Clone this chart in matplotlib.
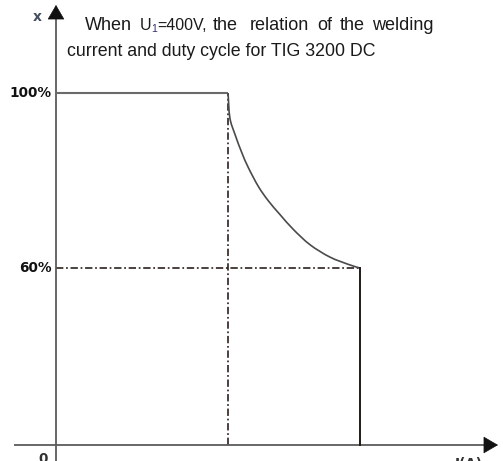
import numpy as np
import matplotlib
matplotlib.use("Agg")
import matplotlib.pyplot as plt
from matplotlib.patches import ArrowStyle, PathPatch
from matplotlib.path import Path

# ---- data (schematic current units: 100 = current at 60 % duty) ----
duty_ticks = [100, 60]
duty_tick_labels = ["100%", "60%"]
current_at_100 = 56.6
current_at_60 = 100.0
curve_current = [56.6, 57.2, 58.9, 61.1, 63.3, 66.6, 69.8, 73.7, 78.1,
                 83.6, 90.1, 96.7, 100.0]
curve_duty = [100.0, 94.3, 90.5, 86.4, 82.9, 78.6, 75.4, 72.2, 68.8,
              65.3, 62.5, 60.7, 60.0]

title_line1 = ["When", "the", "relation", "of", "the", "welding"]
title_voltage = ("U", "1", "=400V,")
title_line2 = "current and duty cycle for TIG 3200 DC"

# ---- layout ----
W, H = 503, 461
fig = plt.figure(figsize=(W / 100, H / 100), dpi=100)
ax = fig.add_axes([0, 0, 1, 1])


# the duty axis is drawn schematically: 0-60 % and 60-100 % get their own spans
def fwd(d):
    d = np.asarray(d, dtype=float)
    return np.where(d <= 60, d * 177 / 60, 177 + (d - 60) * 175 / 40)


def inv(h):
    h = np.asarray(h, dtype=float)
    return np.where(h <= 177, h * 60 / 177, 60 + (h - 177) * 40 / 175)


ax.set_xlim(-18.42, 147.04)
ax.set_yscale("function", functions=(fwd, inv))
ax.set_ylim(-5.424, 121.26)
ax.axis("off")


def pxa(x, y):
    return (x / W, 1 - y / H)


def smooth_path(xs, ys):
    """Catmull-Rom curve through the given points, as cubic Bezier segments."""
    p = np.column_stack([xs, ys])
    ext = np.vstack([p[0], p, p[-1]])
    verts = [p[0]]
    codes = [Path.MOVETO]
    for i in range(1, len(ext) - 2):
        p0, p1, p2, p3 = ext[i - 1], ext[i], ext[i + 1], ext[i + 2]
        verts += [p1 + (p2 - p0) / 6, p2 - (p3 - p1) / 6, p2]
        codes += [Path.CURVE4] * 3
    return Path(verts, codes)


axis_col = "#5c5c5c"
line_col = "#4a4a4a"
dark_col = "#231815"

# axes with arrowheads
xt = ax.get_yaxis_transform()
yt = ax.get_xaxis_transform()
ax.plot([14 / W, 484 / W], [0, 0], transform=xt, color=axis_col, lw=1.3,
        solid_capstyle="butt", zorder=3)
ax.plot([0, 0], [0, 1 - 17 / H], transform=yt, color=axis_col, lw=1.3,
        solid_capstyle="butt", zorder=3)
head = ArrowStyle("-|>", head_length=9.6, head_width=5.6)
ax.annotate("", xy=(498 / W, 0), xycoords=xt, xytext=(-9.6, 0),
            textcoords="offset points",
            arrowprops=dict(arrowstyle=head, mutation_scale=1, color="#111111",
                            lw=0.5, shrinkA=0, shrinkB=0), zorder=4)
ax.annotate("", xy=(0, 1 - 5 / H), xycoords=yt, xytext=(0, -9.6),
            textcoords="offset points",
            arrowprops=dict(arrowstyle=head, mutation_scale=1, color="#111111",
                            lw=0.5, shrinkA=0, shrinkB=0), zorder=4)

# rated-duty guide lines
dashdot = (0, (4.6, 1.7, 1.1, 1.7))
ax.plot([current_at_100, current_at_100], [0, duty_ticks[0]], color=dark_col,
        lw=1.15, linestyle=dashdot, zorder=2)
ax.plot([0, current_at_60], [duty_ticks[1], duty_ticks[1]], color=dark_col,
        lw=1.15, linestyle=dashdot, zorder=2)

# duty-cycle characteristic
ax.plot([0, current_at_100], [duty_ticks[0], duty_ticks[0]], color="#6a6a6a",
        lw=1.5, solid_capstyle="butt", zorder=3)
ax.add_patch(PathPatch(smooth_path(curve_current, curve_duty), fill=False,
                       edgecolor=line_col, lw=1.2, zorder=3))
ax.plot([current_at_60, current_at_60], [duty_ticks[1], 0], color=dark_col,
        lw=1.4, solid_capstyle="projecting", zorder=3)

# tick labels
for d, lab in zip(duty_ticks, duty_tick_labels):
    ax.annotate(lab, xy=(0, d), xytext=(-3, 0), textcoords="offset points",
                ha="right", va="center", fontsize=9.8, fontweight="bold",
                family="DejaVu Sans", color="#111111")

ax.text(*pxa(37.5, 17), "x", transform=ax.transAxes, ha="center", va="center",
        fontsize=10, fontweight="bold", family="DejaVu Sans", color="#46505e")
ax.text(*pxa(43, 452), "0", transform=ax.transAxes, ha="center", va="top",
        fontsize=9.8, fontweight="bold", family="DejaVu Sans", color="#333333")
ax.text(*pxa(455, 457), "I(A)", transform=ax.transAxes, ha="left", va="top",
        fontsize=9.8, fontweight="bold", family="DejaVu Sans", color="#333333")

# two-line caption; the first line is justified, so its words are set one by one
txt = dict(transform=ax.transAxes, ha="left", va="baseline",
           family="Liberation Sans", color="#1a1a1a")
line1_x = [85, 213, 250, 317.5, 340, 372]
for word, x in zip(title_line1, line1_x):
    ax.text(*pxa(x, 30.3), word, fontsize=13, **txt)
ax.text(*pxa(139.3, 30.3), title_voltage[0], fontsize=11.5, **txt)
ax.text(*pxa(151.0, 32.2), title_voltage[1], fontsize=7.5, color="#3a2a6a",
        **{k: v for k, v in txt.items() if k != "color"})
ax.text(*pxa(157.0, 30.3), title_voltage[2], fontsize=11.5, **txt)
ax.text(*pxa(67.3, 56.3), title_line2, fontsize=12.8, **txt)

fig.savefig("out.png", dpi=100)
